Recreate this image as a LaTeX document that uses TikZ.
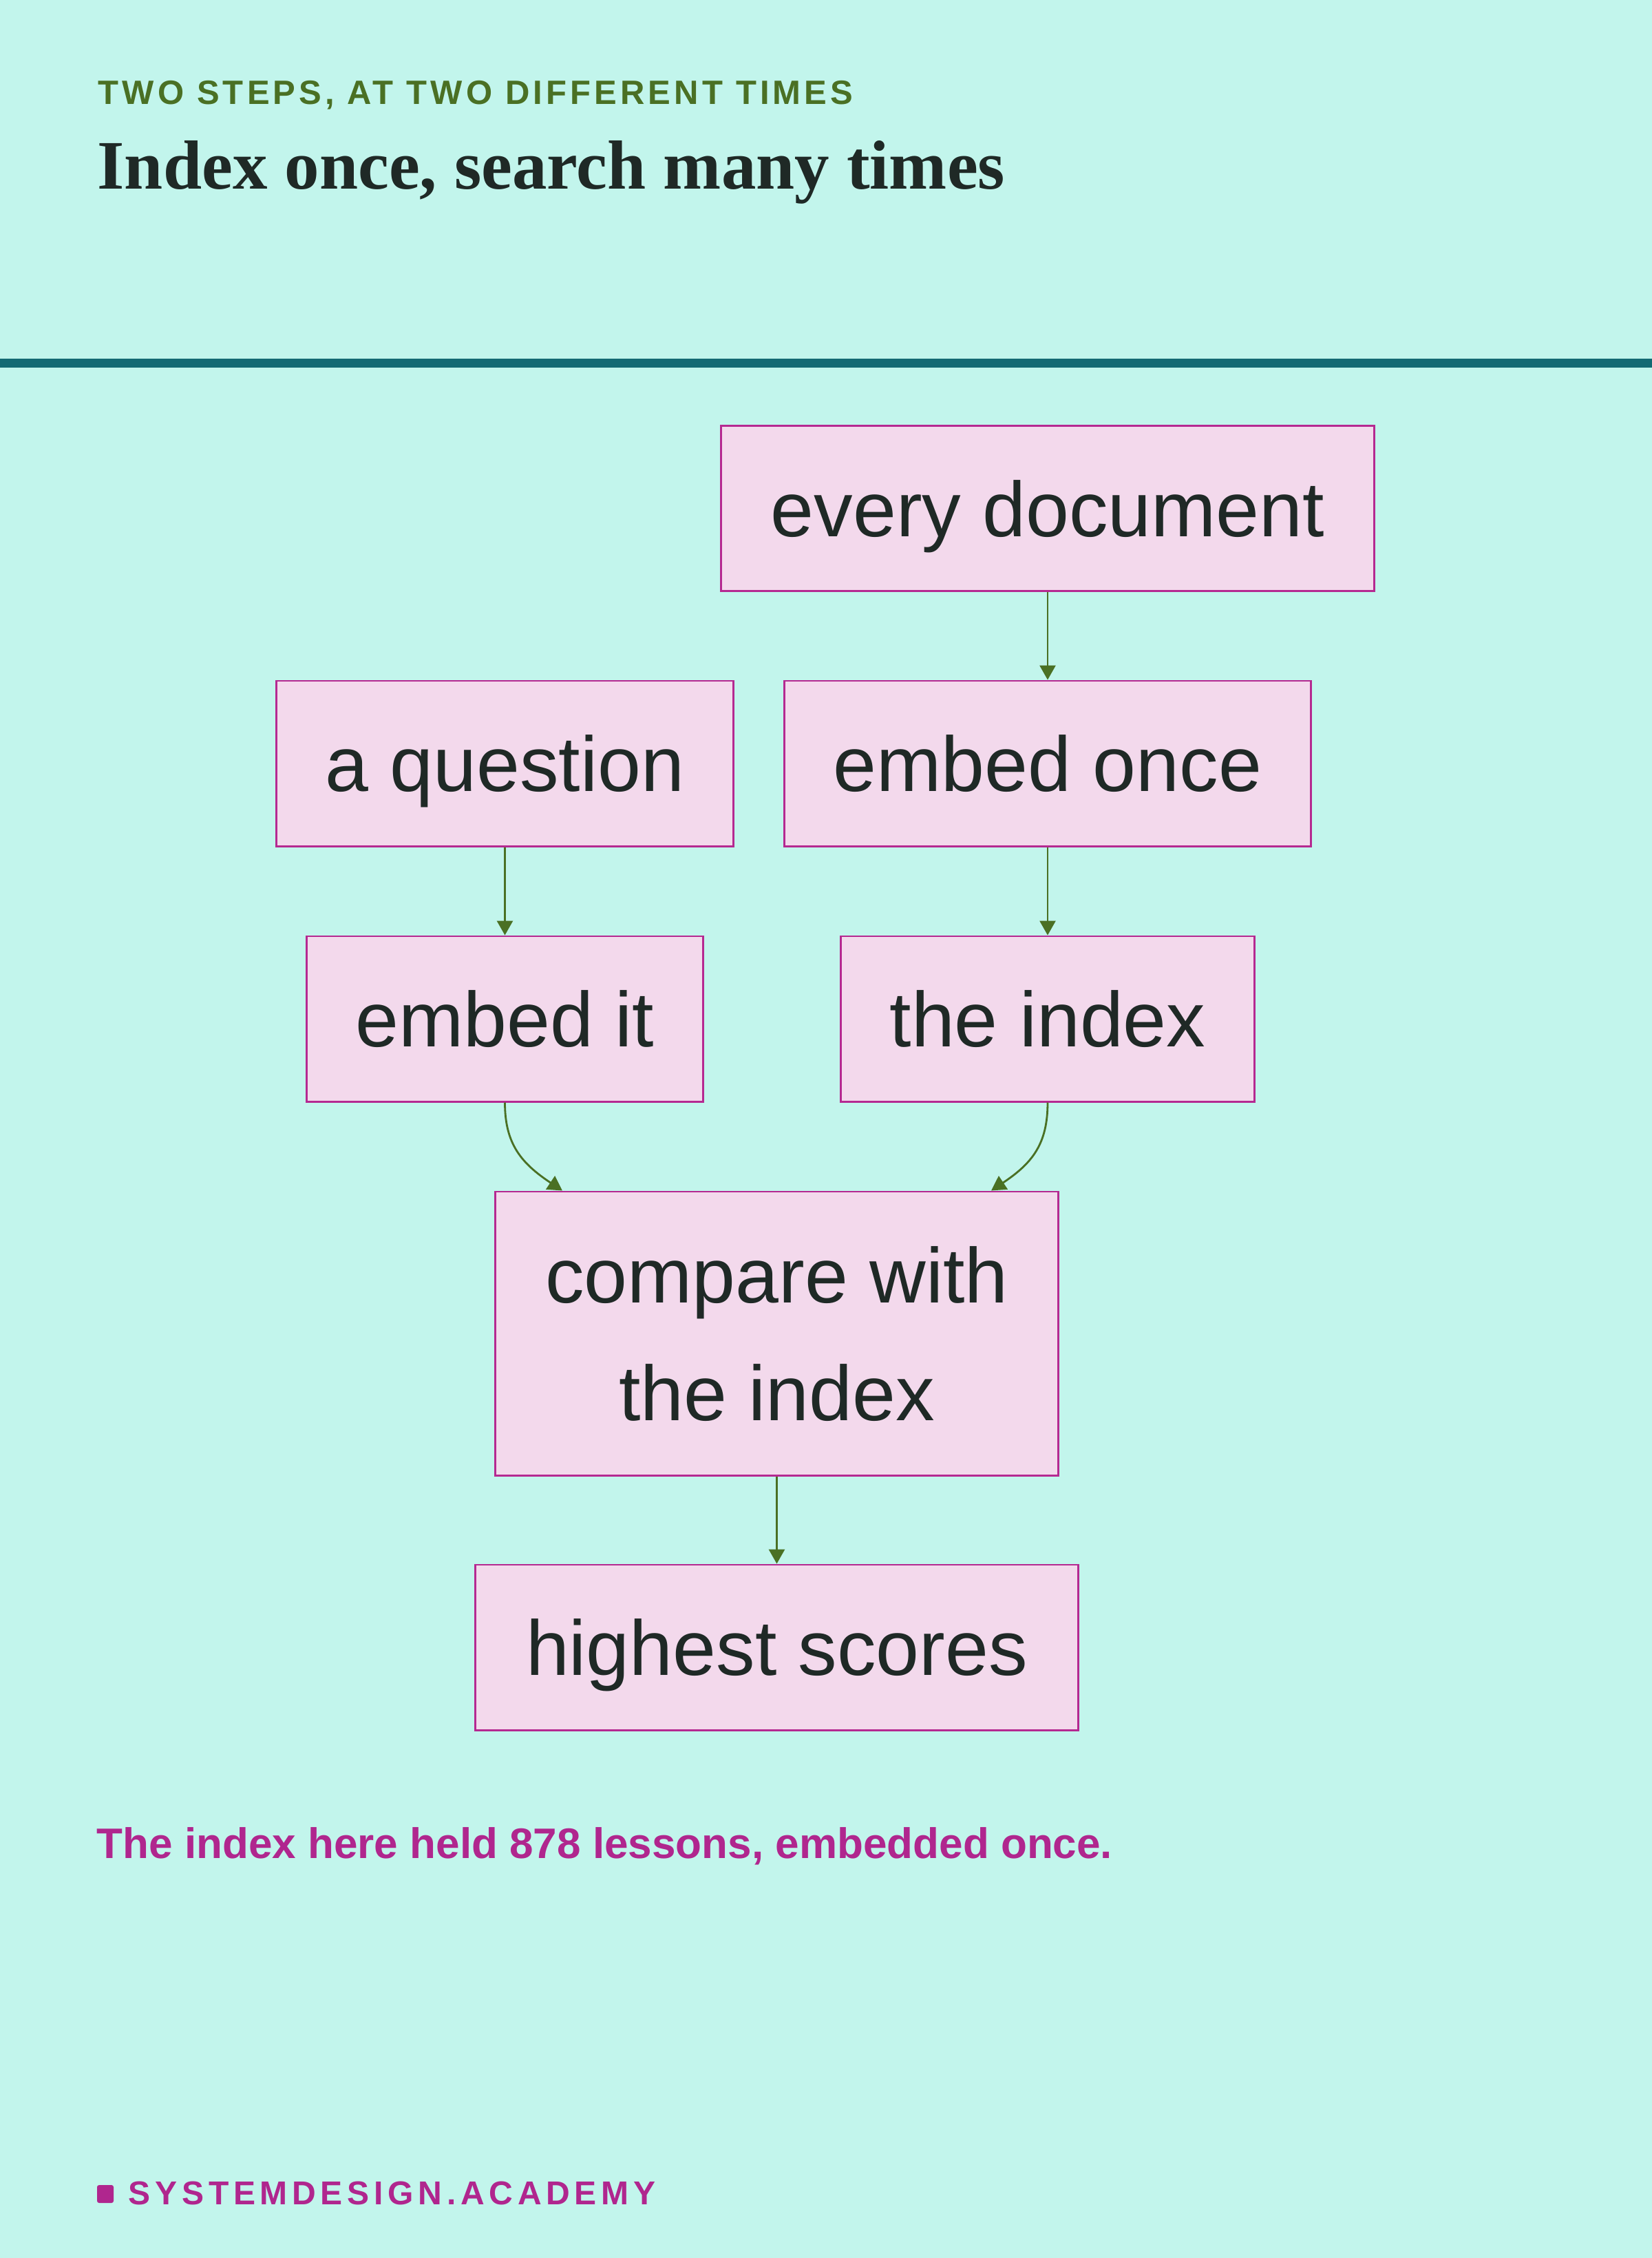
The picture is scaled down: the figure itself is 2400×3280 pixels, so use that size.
\documentclass[tikz,border=0pt]{standalone}
\usepackage{fontspec}
\setmainfont{Liberation Sans}
\newfontfamily\headserif{Liberation Serif}
\newfontfamily\kickerfont[LetterSpace=10.5,UprightFont={* Bold}]{Liberation Sans}
\newfontfamily\brandfont[LetterSpace=14,UprightFont={* Bold}]{Liberation Sans}
\usetikzlibrary{arrows.meta}
\definecolor{mintbg}{HTML}{C2F5EC}
\definecolor{rulecol}{HTML}{136A73}
\definecolor{boxfill}{HTML}{F3D9EC}
\definecolor{boxline}{HTML}{B52991}
\definecolor{flowgreen}{HTML}{4A7024}
\definecolor{ink}{HTML}{1F2926}
\definecolor{brandmag}{HTML}{B0268E}
\begin{document}
\begin{tikzpicture}[x=0.01cm,y=-0.01cm,
  box/.style={draw=boxline,fill=boxfill,line width=0.8pt,inner sep=0pt,minimum height=2.4cm,
    text=ink,font=\fontsize{32.15}{48.37}\selectfont,text depth=0pt,align=center},
  flow/.style={draw=flowgreen,line width=0.8pt,-{Triangle[width=0.23cm,length=0.21cm]}},
  label/.style={anchor=base west,inner sep=0pt}]
\useasboundingbox (0,0) rectangle (2400,3280);
\fill[mintbg] (0,0) rectangle (2400,3280);
% heading
\node[label,text=flowgreen,font={\kickerfont\fontsize{13.94}{16}\selectfont}] (kicker) at (142,151) {TWO STEPS, AT TWO DIFFERENT TIMES};
\node[label,text=ink,font={\headserif\fontsize{28.7}{32}\selectfont\bfseries}] (title) at (141,274) {Index once, search many times};
\fill[rulecol] (0,521) rectangle (2400,534);
% boxes
\node[box,minimum width=9.48cm] (doc) at (1522,738.5) {every document};
\node[box,minimum width=6.63cm] (q) at (733.5,1109) {a question};
\node[box,minimum width=7.64cm] (once) at (1522,1109) {embed once};
\node[box,minimum width=5.75cm] (it) at (733.5,1480) {embed it};
\node[box,minimum width=6.00cm] (idx) at (1522,1480) {the index};
\node[box,minimum width=8.17cm,minimum height=4.12cm] (cmp) at (1128.5,1937) {compare with\\the index};
\node[box,minimum width=8.75cm] (top) at (1128.5,2393) {highest scores};
% arrows
\foreach \a/\b in {doc/once,q/it,once/idx,cmp/top}
  \draw[flow] (\a) -- (\b);
\path (cmp.north) ++(-311.5,0) coordinate (cmpL);
\path (cmp.north) ++(311.5,0) coordinate (cmpR);
\draw[flow] (it.south) .. controls +(0,60) and +(-60,-40) .. (cmpL);
\draw[flow] (idx.south) .. controls +(0,60) and +(60,-40) .. (cmpR);
% footer
\node[label,text=brandmag,font={\fontsize{17.64}{20}\selectfont\bfseries}] (note) at (140,2699) {The index here held 878 lessons, embedded once.};
\fill[brandmag,rounded corners=0.03cm] (141,3174) rectangle (165,3200);
\node[label,text=brandmag,font={\brandfont\fontsize{13.66}{16}\selectfont}] (brand) at (186,3202) {SYSTEMDESIGN.ACADEMY};
\end{tikzpicture}
\end{document}
